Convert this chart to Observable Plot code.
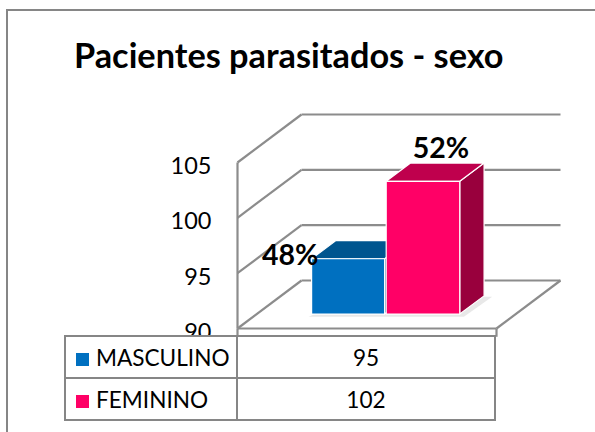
<!DOCTYPE html>
<html>
<head>
<meta charset="utf-8">
<script src="https://cdn.jsdelivr.net/npm/d3@7"></script>
<script src="https://cdn.jsdelivr.net/npm/@observablehq/plot@0.6"></script>
<style>
html,body{margin:0;padding:0;background:#fff;width:595px;height:432px;overflow:hidden;font-family:Lato,sans-serif;color:#000}
#frame{position:absolute;left:6px;top:9px;right:-5px;bottom:-5px;border:2px solid #868686;pointer-events:none}
#title{height:100px;box-sizing:border-box;padding:37px 0 0 74px;font-size:34.3px;font-weight:700;line-height:36px;white-space:nowrap}
#chart svg{display:block}
#table{position:relative;margin-left:64px;margin-top:-1px;border-collapse:collapse;background:#fff;font-size:22.6px;table-layout:fixed;width:432px}
#table td{border:2px solid #868686;height:40px;padding:0;text-align:center}
#table td:first-child{width:173px;text-align:left;padding-left:10px;box-sizing:border-box;white-space:nowrap}
#table .sw{display:inline-block;width:13px;height:13px;margin-right:7px}
</style>
</head>
<body>
<div id="frame"></div>
<div id="title"></div>
<div id="chart"></div>
<table id="table"><colgroup><col style="width:172px"><col></colgroup></table>
<script>
const titleText = "Pacientes parasitados - sexo";
const categories = ["MASCULINO", "FEMININO"];
const values = [95, 102];
const percents = ["48%", "52%"];
const ticks = [90, 95, 100, 105];
const frontColors = ["#0070C0", "#FF0066"];
const topColors = ["#00558F", "#BF004D"];
const sideColors = ["#00466F", "#99003D"];
const colorBack = "#8c8c8c";

// oblique projection: u along floor (0..1), v value, d depth (0..1)
const skewX = 64 / 259, skewY = 48 / (166 / 15);
const P = (u, v, d) => ({x: u + d * skewX, y: v + d * skewY});
const base = 90, top_ = 105;
const barU = [[0.212, 0.494], [0.5, 0.784]];
const d0 = 0.3, d1 = 0.68;

const poly = pts => pts.concat([pts[0]]);
const face = (pts, fill, stroke = "#fff") =>
  Plot.line(poly(pts), {x: "x", y: "y", fill, stroke, strokeWidth: 1.2, strokeLinejoin: "round"});

const gridLinks = [];
for (const t of ticks) {
  gridLinks.push({a: P(0, t, 0), b: P(0, t, 1)});
  gridLinks.push({a: P(0, t, 1), b: P(1, t, 1)});
}
gridLinks.push({a: P(0, base, 0), b: P(0, top_, 0)});
gridLinks.push({a: P(0, base, 0), b: P(1, base, 0)});
gridLinks.push({a: P(1, base, 0), b: P(1, base, 1)});
gridLinks.push({a: P(0, base, 0), b: P(0, base - 0.75, 0)});
gridLinks.push({a: P(1, base, 0), b: P(1, base - 0.75, 0)});

const marks = [
  Plot.axisY({ticks, tickSize: 0, tickPadding: 26, label: null, fontSize: 23.5, dy: 4}),
  Plot.link(gridLinks, {
    x1: d => d.a.x, y1: d => d.a.y, x2: d => d.b.x, y2: d => d.b.y,
    stroke: colorBack, strokeWidth: 2.2, strokeOpacity: 1
  }),
  // soft floor shadow
  face([P(0.2, base - 0.25, d0), P(0.8, base - 0.25, d0), P(0.82, base, d1 - 0.02), P(0.3, base, d1)], "#e8e8e8", "none")
];

values.forEach((v, i) => {
  const [a, b] = barU[i];
  marks.push(face([P(b, v, d0), P(b, v, d1), P(b, base, d1), P(b, base, d0)], sideColors[i]));
  marks.push(face([P(a, v, d0), P(b, v, d0), P(b, v, d1), P(a, v, d1)], topColors[i]));
  marks.push(face([P(a, base, d0), P(b, base, d0), P(b, v, d0), P(a, v, d0)], frontColors[i]));
});

const labelOffsets = [[-58, -3], [18, -32]];
values.forEach((v, i) => {
  const [a, b] = barU[i];
  const c = P((a + b) / 2, v, d0);
  marks.push(Plot.text([c], {
    x: "x", y: "y", text: () => percents[i], fontSize: 28.5, fontWeight: 700, fill: "#000",
    dx: labelOffsets[i][0], dy: labelOffsets[i][1]
  }));
});

const chart = Plot.plot({
  width: 595,
  height: 236,
  marginLeft: 237, marginRight: 0, marginTop: 0, marginBottom: 0,
  style: {background: "transparent", fontFamily: "Lato, sans-serif", color: "#000", overflow: "visible"},
  x: {domain: [0, 1], range: [237, 496], axis: null},
  y: {domain: [base, top_], range: [228, 62]},
  marks
});
document.getElementById("chart").append(chart);
document.getElementById("title").textContent = titleText;

const table = document.getElementById("table");
categories.forEach((c, i) => {
  const tr = table.insertRow();
  const td = tr.insertCell();
  const sw = document.createElement("span");
  sw.className = "sw";
  sw.style.background = frontColors[i];
  td.append(sw, c);
  tr.insertCell().textContent = values[i];
});
</script>
</body>
</html>
